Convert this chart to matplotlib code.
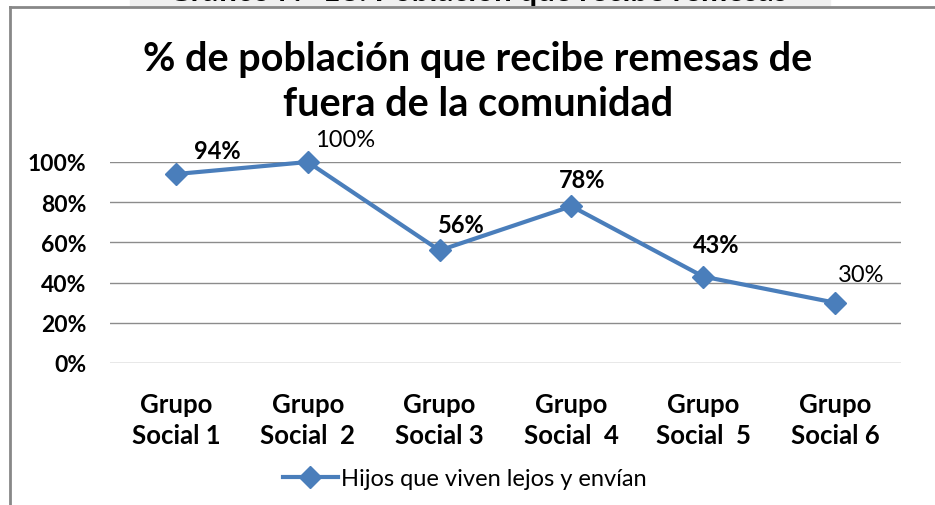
import matplotlib.pyplot as plt
from matplotlib.lines import Line2D
from matplotlib.patches import Rectangle

plt.rcParams['font.family'] = ['Lato', 'DejaVu Sans']

# data
categories = ["Grupo\nSocial 1", "Grupo\nSocial  2", "Grupo\nSocial 3",
              "Grupo\nSocial  4", "Grupo\nSocial  5", "Grupo\nSocial 6"]
values = [0.94, 1.00, 0.56, 0.78, 0.43, 0.30]
value_labels = ["94%", "100%", "56%", "78%", "43%", "30%"]
label_bold = [True, False, True, True, True, False]
y_ticks = [0, 0.2, 0.4, 0.6, 0.8, 1.0]
y_tick_labels = ["0%", "20%", "40%", "60%", "80%", "100%"]
series_name = "Hijos que viven lejos y envían"

# label offsets (points) from each marker
label_offsets = [(30, 17), (27, 16), (16, 19), (8, 19), (9, 23), (19, 20)]

blue = "#4a7ebb"

fig = plt.figure(figsize=(9.35, 5.06), dpi=100)
ax = fig.add_axes([110 / 935, 1 - 364 / 506, 791 / 935, 201 / 506])

x = list(range(len(categories)))
ax.plot(x, values, color=blue, lw=3, marker='D', markersize=11,
        markerfacecolor=blue, markeredgecolor=blue, label=series_name,
        zorder=3, clip_on=False)

for xi, v, lab, b, off in zip(x, values, value_labels, label_bold, label_offsets):
    ax.annotate(lab, (xi, v), xytext=off, textcoords='offset points',
                ha='center', va='center', fontsize=17,
                fontweight='bold' if b else 'normal')

ax.set_xlim(-0.5, len(categories) - 0.5)
ax.set_ylim(0, 1)
ax.set_yticks(y_ticks)
ax.set_yticklabels(y_tick_labels, fontsize=16.5, fontweight='bold')
ax.set_xticks(x)
ax.set_xticklabels(categories, fontsize=18.5, fontweight='bold', linespacing=1.35)
ax.tick_params(axis='y', length=0, pad=17)
ax.tick_params(axis='x', length=0, pad=21)
ax.grid(axis='y', color='#8c8c8c', lw=1)
ax.set_axisbelow(True)
for s in ax.spines.values():
    s.set_visible(False)

fig.text(478 / 935, 1 - 82 / 506,
         "% de población que recibe remesas de\nfuera de la comunidad",
         ha='center', va='center', fontsize=28.5, fontweight='bold',
         linespacing=1.25)

leg = fig.legend(loc='center', bbox_to_anchor=(465 / 935, 1 - 480 / 506),
                 frameon=False, fontsize=17, handlelength=2.3,
                 handletextpad=0.15)

# outer frame of the pasted chart and the clipped caption above it
fig.patches.append(Rectangle((130 / 935, 1 - 8 / 506), 700 / 935, 8 / 506,
                             transform=fig.transFigure, color='#f0f0f0',
                             zorder=0))
fig.text(478 / 935, 1 - 6 / 506, "Gráfico N° 18: Población que recibe remesas",
         ha='center', va='bottom', fontsize=22.5, fontweight='bold')
fig.lines.append(Line2D([10 / 935, 1], [1 - 8 / 506, 1 - 8 / 506],
                        transform=fig.transFigure, color='#888888', lw=2))
fig.lines.append(Line2D([10 / 935, 10 / 935], [0, 1 - 8 / 506],
                        transform=fig.transFigure, color='#888888', lw=2))

fig.savefig("out.png", dpi=100)
